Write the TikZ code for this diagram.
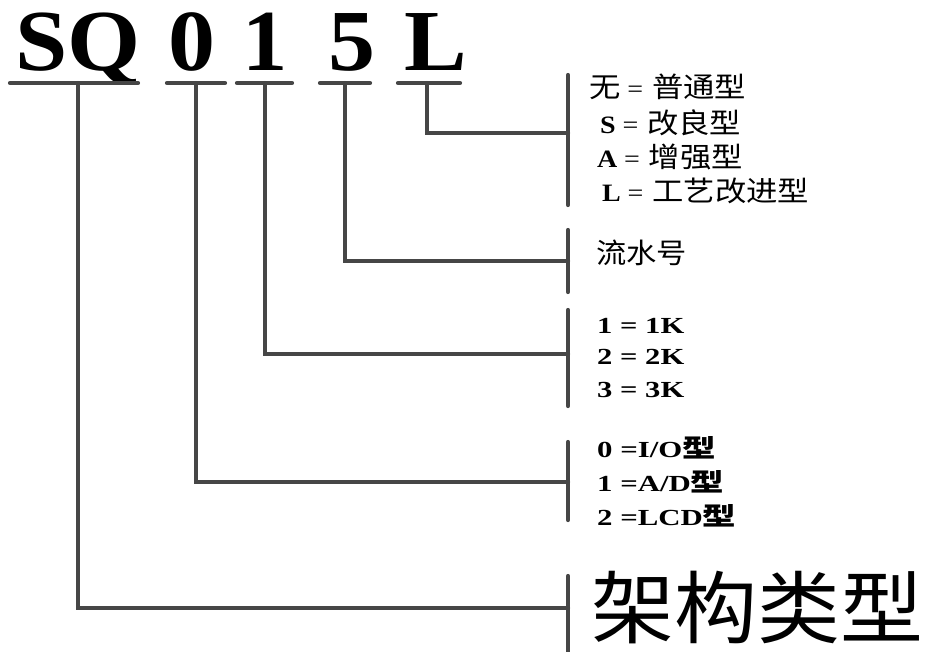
\documentclass[tikz,border=0pt]{standalone}
\usepackage{graphicx}
\usepackage{fontspec}
\setmainfont{Liberation Serif}
\newfontfamily\cjk{Noto Sans CJK SC}
\definecolor{lc}{HTML}{464646}
\newcommand{\zh}[1]{{\cjk\mdseries\fontsize{28}{30}\selectfont #1}}
\newcommand{\zhb}[1]{{\cjk\bfseries\fontsize{25}{27}\selectfont #1}}
\begin{document}
\begin{tikzpicture}[x=1pt,y=-1pt,
  ln/.style={draw=lc, line width=4.2pt, line cap=round, line join=miter},
  big/.style={inner sep=0, anchor=base west, font=\fontsize{87}{90}\selectfont\bfseries},
  lbl/.style={inner sep=0, anchor=base west, font=\fontsize{25}{28}\selectfont\bfseries},
  lbs/.style={inner sep=0, anchor=base west, font=\fontsize{23}{26}\selectfont\bfseries}]
\useasboundingbox (0,0) rectangle (925,651);
% code letters
\node[big] (tSQ) at (15,70) {\scalebox{1.08}[1]{SQ}};
\node[big] (t0) at (168,70) {\scalebox{1.08}[1]{0}};
\node[big] (t1) at (242,70) {\scalebox{1.04}[1]{1}};
\node[big] (t5) at (328,70) {\scalebox{1.08}[1]{5}};
\node[big] (tL) at (404,70) {\scalebox{1.08}[1]{L}};
% underline coordinates
\coordinate (aSQ) at (10,83);  \coordinate (zSQ) at (138,83); \coordinate (uSQ) at (78,83);
\coordinate (a0) at (167,83);  \coordinate (z0) at (225,83);   \coordinate (u0) at (196,83);
\coordinate (a1) at (237,83);  \coordinate (z1) at (292,83);   \coordinate (u1) at (265,83);
\coordinate (a5) at (320,83);  \coordinate (z5) at (370,83);   \coordinate (u5) at (345,83);
\coordinate (aL) at (398,83);  \coordinate (zL) at (460,83);   \coordinate (uL) at (427,83);
\draw[ln] (aSQ) -- (zSQ);
\draw[ln] (a0) -- (z0);
\draw[ln] (a1) -- (z1);
\draw[ln] (a5) -- (z5);
\draw[ln] (aL) -- (zL);
% brackets
\coordinate (bLt) at (568,75);  \coordinate (bLb) at (568,205); \coordinate (bL) at (568,133);
\coordinate (b5t) at (568,230); \coordinate (b5b) at (568,292); \coordinate (b5) at (568,261);
\coordinate (b1t) at (568,310); \coordinate (b1b) at (568,406); \coordinate (b1) at (568,354);
\coordinate (b0t) at (568,442); \coordinate (b0b) at (568,520); \coordinate (b0) at (568,482);
\coordinate (bSt) at (568,576); \coordinate (bSb) at (568,655); \coordinate (bS) at (568,608);
\draw[ln] (bLt) -- (bLb);
\draw[ln] (b5t) -- (b5b);
\draw[ln] (b1t) -- (b1b);
\draw[ln] (b0t) -- (b0b);
\draw[ln] (bSt) -- (bSb);
% connectors
\draw[ln] (uL) |- (bL);
\draw[ln] (u5) |- (b5);
\draw[ln] (u1) |- (b1);
\draw[ln] (u0) |- (b0);
\draw[ln] (uSQ) |- (bS);
% labels
\node[lbl] (l1) at (589,97) {\scalebox{1.12}[1]{\zh{无}\hspace{6pt}\mdseries=\hspace{8pt}\zh{普通型}}};
\node[lbl] (l2) at (600,133) {\scalebox{1.12}[1]{S\hspace{6pt}\mdseries=\hspace{8pt}\zh{改良型}}};
\node[lbl] (l3) at (597,167) {\scalebox{1.12}[1]{A\hspace{6pt}\mdseries=\hspace{8pt}\zh{增强型}}};
\node[lbl] (l4) at (602,201) {\scalebox{1.12}[1]{L\hspace{6pt}\mdseries=\hspace{8pt}\zh{工艺改进型}}};
\node[lbl] (n1) at (596,263) {\scalebox{1.08}[1]{\zh{流水号}}};
\node[lbs] (k1) at (597,333) {\scalebox{1.33}[1]{1 = 1K}};
\node[lbs] (k2) at (597,364) {\scalebox{1.33}[1]{2 = 2K}};
\node[lbs] (k3) at (597,397) {\scalebox{1.33}[1]{3 = 3K}};
\node[lbs] (c0) at (597,457) {\scalebox{1.34}[1]{0 =I/O\zhb{型}}};
\node[lbs] (c1) at (597,491) {\scalebox{1.34}[1]{1 =A/D\zhb{型}}};
\node[lbs] (c2) at (597,525) {\scalebox{1.34}[1]{2 =LCD\zhb{型}}};
\node[inner sep=0, anchor=base west, font=\cjk\fontsize{79}{82}\selectfont] (arch) at (591,637) {\scalebox{1.05}[1]{架构类型}};
\end{tikzpicture}
\end{document}
